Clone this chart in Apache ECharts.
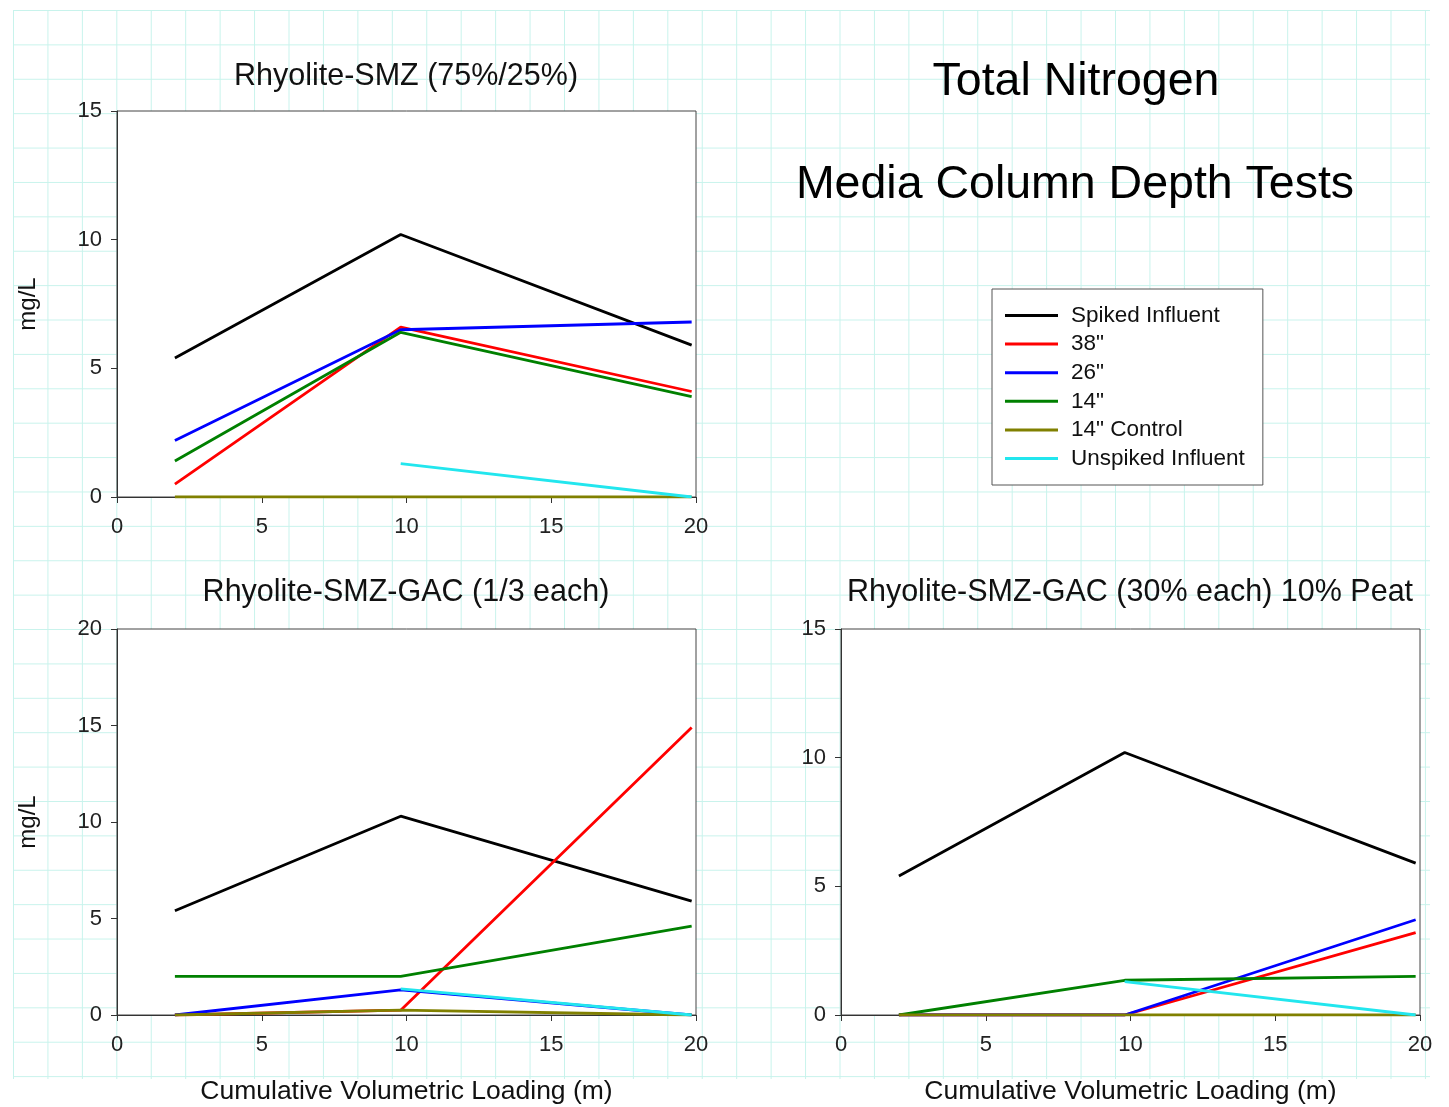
<!DOCTYPE html>
<html>
<head>
<meta charset="utf-8">
<script src="https://cdn.jsdelivr.net/npm/echarts@6/dist/echarts.min.js"></script>
<style>
html,body{margin:0;padding:0;background:#fff;}
#wrap{position:relative;width:1449px;height:1107px;}
#bg{position:absolute;left:13px;top:10px;width:1417px;height:1069px;
background-image:linear-gradient(to right,#c8f3ec 1px,transparent 1px),linear-gradient(to bottom,#c8f3ec 1px,transparent 1px);
background-size:34.45px 34.4px;}
#chart{position:absolute;left:0;top:0;width:1449px;height:1107px;}
</style>
</head>
<body>
<div id="wrap"><div id="bg"></div><div id="chart"></div></div>
<script>
// ---- data ----
const xLoading = [2.0, 9.8, 19.85];
const seriesNames = ['Spiked Influent', '38"', '26"', '14"', '14" Control', 'Unspiked Influent'];
const panelTitles = ['Rhyolite-SMZ (75%/25%)', 'Rhyolite-SMZ-GAC (1/3 each)', 'Rhyolite-SMZ-GAC (30% each) 10% Peat'];
const xTicks = [0, 5, 10, 15, 20];
const yMax = [15, 20, 15];

// Panel 1: Rhyolite-SMZ (75%/25%)
const p1Spiked   = [5.4, 10.2, 5.9];
const p1In38     = [0.5, 6.6, 4.1];
const p1In26     = [2.2, 6.5, 6.8];
const p1In14     = [1.4, 6.4, 3.9];
const p1Control  = [0, 0, 0];
const p1Unspiked = [null, 1.3, 0];

// Panel 2: Rhyolite-SMZ-GAC (1/3 each)
const p2Spiked   = [5.4, 10.3, 5.9];
const p2In38     = [0, 0.25, 14.9];
const p2In26     = [0, 1.3, 0];
const p2In14     = [2.0, 2.0, 4.6];
const p2Control  = [0, 0.25, 0];
const p2Unspiked = [null, 1.35, 0];

// Panel 3: Rhyolite-SMZ-GAC (30% each) 10% Peat
const p3Spiked   = [5.4, 10.2, 5.9];
const p3In38     = [0, 0, 3.2];
const p3In26     = [0, 0, 3.7];
const p3In14     = [0, 1.35, 1.5];
const p3Control  = [0, 0, 0];
const p3Unspiked = [null, 1.3, 0];

const panels = [
  [p1Spiked, p1In38, p1In26, p1In14, p1Control, p1Unspiked],
  [p2Spiked, p2In38, p2In26, p2In14, p2Control, p2Unspiked],
  [p3Spiked, p3In38, p3In26, p3In14, p3Control, p3Unspiked]
];
const colors = ['#000000', '#ff0000', '#0000ff', '#008000', '#808000', '#22e6ee'];

// ---- chart ----
const FONT = '"Liberation Sans", Arial, sans-serif';
const chart = echarts.init(document.getElementById('chart'), null, {renderer: 'canvas'});

const grids = [
  {left: 117, top: 111, width: 579, height: 386},
  {left: 117, top: 629, width: 579, height: 386},
  {left: 841, top: 629, width: 579, height: 386}
].map(g => Object.assign(g, {show: true, backgroundColor: '#fff', borderColor: '#444', borderWidth: 1, containLabel: false}));

const xAxes = grids.map((g, i) => ({
  type: 'value', gridIndex: i, min: 0, max: 20, interval: 5,
  name: i > 0 ? 'Cumulative Volumetric Loading (m)' : '',
  nameLocation: 'middle', nameGap: 63,
  nameTextStyle: {fontFamily: FONT, fontSize: 26.5, color: '#111'},
  axisLine: {show: true, onZero: false, lineStyle: {color: '#333', width: 1}},
  axisTick: {show: true, length: 6, inside: false, lineStyle: {color: '#333'}},
  axisLabel: {fontFamily: FONT, fontSize: 22, color: '#222', margin: 19},
  splitLine: {show: false}
}));

const yAxes = grids.map((g, i) => ({
  type: 'value', gridIndex: i, min: 0, max: yMax[i], interval: 5,
  name: i < 2 ? 'mg/L' : '',
  nameLocation: 'middle', nameGap: 77, nameRotate: 90,
  nameTextStyle: {fontFamily: FONT, fontSize: 24, color: '#111'},
  axisLine: {show: true, lineStyle: {color: '#333', width: 1}},
  axisTick: {show: true, length: 6, inside: false, lineStyle: {color: '#333'}},
  axisLabel: {fontFamily: FONT, fontSize: 22, color: '#222', margin: 15},
  splitLine: {show: false}
}));

const series = [];
panels.forEach((vals, pi) => {
  vals.forEach((arr, si) => {
    series.push({
      type: 'line', name: seriesNames[si], xAxisIndex: pi, yAxisIndex: pi,
      data: arr.map((v, k) => [xLoading[k], v]),
      showSymbol: false, symbol: 'none', connectNulls: false,
      color: colors[si],
      lineStyle: {color: colors[si], width: 2.8},
      animation: false, z: 2 + si
    });
  });
});

const titleCenters = [[406, 61], [406, 577], [1130, 577]];
const titles = panelTitles.map((t, i) => ({
  text: t, left: titleCenters[i][0], top: titleCenters[i][1], textAlign: 'center', padding: 0,
  textStyle: {fontFamily: FONT, fontSize: 30.5, fontWeight: 'normal', color: '#111'}
}));
titles.push({text: 'Total Nitrogen', left: 1076, top: 59, textAlign: 'center', padding: 0,
  textStyle: {fontFamily: FONT, fontSize: 46.5, fontWeight: 'normal', color: '#000'}});
titles.push({text: 'Media Column Depth Tests', left: 1075, top: 162, textAlign: 'center', padding: 0,
  textStyle: {fontFamily: FONT, fontSize: 46.5, fontWeight: 'normal', color: '#000'}});

chart.setOption({
  animation: false,
  title: titles,
  grid: grids,
  xAxis: xAxes,
  yAxis: yAxes,
  legend: {
    data: seriesNames, orient: 'vertical', left: 992, top: 289,
    padding: [15, 18, 15, 13], itemGap: 5.6, itemWidth: 53, itemHeight: 3, icon: 'rect',
    backgroundColor: '#fff', borderColor: '#555', borderWidth: 1, borderRadius: 0,
    textStyle: {fontFamily: FONT, fontSize: 22.5, color: '#111', lineHeight: 22, padding: [0, 0, 0, 8]},
    selectedMode: false
  },
  series: series
});
</script>
</body>
</html>
